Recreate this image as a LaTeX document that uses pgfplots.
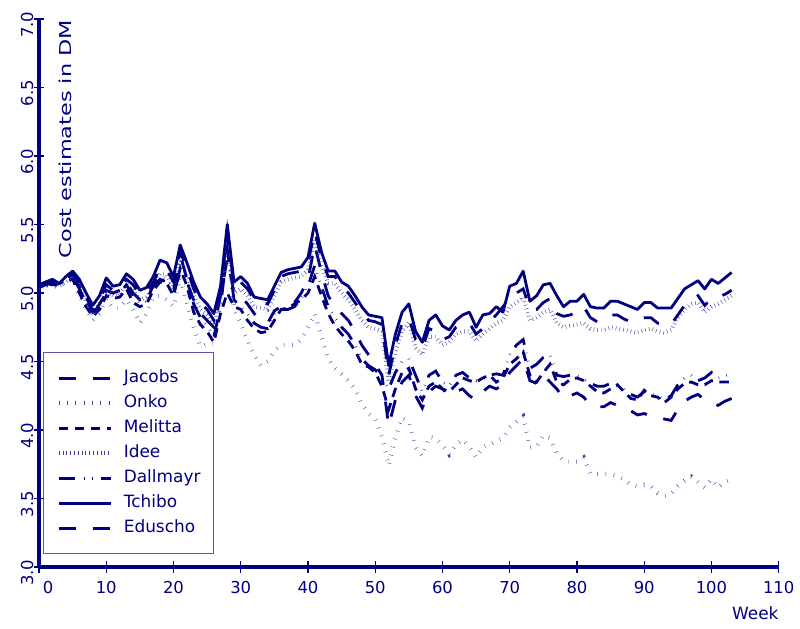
\documentclass[border=0pt]{standalone}
\usepackage{fontspec}
\setmainfont{DejaVu Sans}
\newfontfamily\ylabfont[FakeStretch=1.36]{DejaVu Sans}
\usepackage{pgfplots}
\usepackage{pgfplotstable}
\pgfplotsset{compat=1.18}
\definecolor{navy}{RGB}{0,0,128}

% week, Jacobs, Onko, Melitta, Idee, Dallmayr, Tchibo, Eduscho
\pgfplotstableread{
w J O M I D T E
0 5.06 5.05 5.04 5.04 5.05 5.05 5.05
1 5.08 5.06 5.06 5.05 5.07 5.08 5.07
2 5.07 5.05 5.05 5.07 5.06 5.10 5.09
3 5.09 5.04 5.07 5.05 5.08 5.07 5.06
4 5.11 5.08 5.09 5.08 5.10 5.12 5.10
5 5.13 5.10 5.10 5.12 5.12 5.16 5.14
6 5.05 4.98 5.00 5.05 5.03 5.10 5.08
7 4.95 4.88 4.90 4.93 4.93 5.00 4.97
8 4.86 4.80 4.83 4.84 4.84 4.91 4.87
9 4.90 4.85 4.88 4.92 4.92 4.98 4.95
10 5.02 4.96 4.98 5.02 5.00 5.11 5.06
11 5.00 4.89 4.96 4.98 4.98 5.05 5.02
12 5.02 4.89 4.97 5.00 5.00 5.06 5.03
13 5.08 4.95 5.03 5.06 5.06 5.14 5.10
14 5.00 4.88 4.93 5.02 4.98 5.10 5.06
15 4.95 4.78 4.90 4.95 4.92 5.02 4.99
16 4.97 4.85 4.92 4.97 4.94 5.04 5.01
17 5.05 4.97 5.02 5.05 5.06 5.12 5.08
18 5.10 4.98 5.08 5.14 5.12 5.24 5.18
19 5.08 4.95 5.07 5.13 5.10 5.22 5.17
20 5.00 4.90 4.98 5.04 5.02 5.12 5.08
21 5.15 5.11 5.18 5.25 5.28 5.35 5.30
22 5.08 4.92 5.05 5.12 5.10 5.22 5.18
23 4.95 4.75 4.86 4.98 4.92 5.08 5.03
24 4.85 4.61 4.77 4.88 4.82 4.97 4.93
25 4.80 4.63 4.72 4.84 4.76 4.92 4.88
26 4.75 4.63 4.64 4.76 4.68 4.85 4.80
27 4.98 4.95 4.85 4.96 4.90 5.05 5.00
28 5.25 5.40 5.00 5.40 5.32 5.50 5.45
29 5.00 4.88 4.90 5.00 4.95 5.08 5.05
30 4.98 4.78 4.88 5.03 4.90 5.12 5.08
31 4.92 4.65 4.80 4.98 4.85 5.07 5.03
32 4.85 4.55 4.74 4.90 4.78 4.97 4.95
33 4.80 4.47 4.71 4.89 4.75 4.96 4.93
34 4.78 4.50 4.72 4.88 4.74 4.95 4.92
35 4.87 4.58 4.80 4.98 4.85 5.05 5.02
36 4.90 4.62 4.88 5.08 4.88 5.15 5.12
37 4.90 4.62 4.89 5.10 4.88 5.17 5.14
38 4.93 4.62 4.92 5.11 4.90 5.18 5.15
39 5.00 4.66 4.95 5.12 4.96 5.19 5.16
40 5.10 4.75 5.00 5.17 5.05 5.26 5.22
41 5.35 4.85 5.12 5.40 5.20 5.51 5.45
42 5.15 4.68 4.98 5.20 5.05 5.30 5.25
43 4.98 4.52 4.85 5.07 4.90 5.16 5.12
44 4.90 4.45 4.76 5.07 4.82 5.16 5.12
45 4.85 4.41 4.70 5.00 4.75 5.08 5.04
46 4.80 4.36 4.65 4.95 4.70 5.05 5.00
47 4.72 4.30 4.58 4.88 4.62 4.98 4.93
48 4.62 4.19 4.48 4.80 4.52 4.90 4.86
49 4.55 4.12 4.46 4.75 4.47 4.84 4.80
50 4.48 4.08 4.42 4.74 4.44 4.83 4.79
51 4.40 3.95 4.32 4.72 4.38 4.82 4.77
52 4.03 3.74 4.15 4.35 4.30 4.47 4.40
53 4.22 3.95 4.30 4.57 4.42 4.70 4.62
54 4.35 4.09 4.42 4.72 4.50 4.86 4.78
55 4.40 4.06 4.45 4.78 4.52 4.92 4.82
56 4.25 3.87 4.30 4.60 4.40 4.72 4.66
57 4.16 3.81 4.22 4.55 4.28 4.64 4.60
58 4.28 3.95 4.32 4.68 4.40 4.80 4.74
59 4.32 3.94 4.35 4.68 4.43 4.84 4.72
60 4.30 3.89 4.30 4.62 4.35 4.76 4.66
61 4.25 3.82 4.28 4.64 4.32 4.73 4.68
62 4.28 3.89 4.33 4.70 4.40 4.80 4.75
63 4.30 3.93 4.38 4.72 4.42 4.84 4.77
64 4.25 3.88 4.36 4.72 4.38 4.86 4.78
65 4.22 3.80 4.35 4.65 4.36 4.75 4.70
66 4.28 3.88 4.38 4.70 4.37 4.84 4.74
67 4.32 3.89 4.40 4.74 4.40 4.85 4.79
68 4.30 3.92 4.35 4.78 4.41 4.90 4.84
69 4.33 3.94 4.38 4.80 4.40 4.86 4.90
70 4.42 4.02 4.48 4.90 4.55 5.05 4.96
71 4.47 4.06 4.52 4.93 4.62 5.07 5.00
72 4.52 4.10 4.57 4.97 4.66 5.16 5.03
73 4.36 3.87 4.40 4.80 4.45 4.94 4.89
74 4.34 3.88 4.35 4.82 4.48 4.98 4.88
75 4.40 3.96 4.42 4.86 4.53 5.06 4.93
76 4.35 3.94 4.48 4.88 4.55 5.07 4.96
77 4.30 3.83 4.35 4.78 4.40 4.98 4.85
78 4.23 3.77 4.33 4.75 4.39 4.90 4.83
79 4.25 3.77 4.37 4.76 4.40 4.94 4.84
80 4.27 3.77 4.38 4.77 4.40 4.94 4.86
81 4.24 3.80 4.36 4.78 4.37 4.99 4.90
82 4.18 3.68 4.32 4.74 4.34 4.90 4.82
83 4.17 3.68 4.28 4.73 4.32 4.89 4.79
84 4.17 3.68 4.27 4.73 4.32 4.89 4.81
85 4.20 3.68 4.30 4.75 4.34 4.94 4.84
86 4.18 3.66 4.33 4.74 4.32 4.94 4.84
87 4.17 3.64 4.28 4.73 4.30 4.92 4.81
88 4.14 3.60 4.23 4.72 4.26 4.90 4.79
89 4.11 3.59 4.22 4.71 4.24 4.88 4.80
90 4.12 3.60 4.29 4.73 4.28 4.93 4.82
91 4.10 3.59 4.25 4.74 4.26 4.93 4.82
92 4.09 3.54 4.24 4.72 4.25 4.89 4.78
93 4.08 3.52 4.20 4.71 4.22 4.89 4.77
94 4.07 3.53 4.24 4.73 4.25 4.89 4.77
95 4.15 3.59 4.30 4.82 4.33 4.96 4.84
96 4.21 3.63 4.34 4.88 4.38 5.03 4.91
97 4.24 3.66 4.35 4.92 4.40 5.06 4.95
98 4.26 3.62 4.33 4.93 4.36 5.09 4.98
99 4.22 3.58 4.33 4.86 4.38 5.03 4.91
100 4.20 3.64 4.36 4.90 4.42 5.10 4.96
101 4.18 3.58 4.35 4.92 4.38 5.07 4.97
102 4.21 3.62 4.35 4.95 4.40 5.11 4.99
103 4.23 3.64 4.35 4.98 4.40 5.15 5.02
}\coffee

\begin{document}
\begin{tikzpicture}
\useasboundingbox (-39bp,-62bp) rectangle (761bp,567bp);
\begin{axis}[
  at={(0,0)}, anchor=south west, scale only axis,
  width=739.7bp, height=548bp,
  xmin=0, xmax=110, ymin=3, ymax=7,
  axis x line=bottom, axis y line=left,
  axis line style={-, line width=3.5bp, draw=navy},
  xtick={0,10,20,30,40,50,60,70,80,90,100,110},
  xticklabels={\hspace*{18bp}0,10,20,30,40,50,60,70,80,90,100,110},
  ytick={3,3.5,4,4.5,5,5.5,6,6.5,7},
  yticklabels={3.0,3.5,4.0,4.5,5.0,5.5,6.0,6.5,7.0},
  tick align=center, major tick length=11bp,
  tick style={draw=navy, line width=1.2bp},
  every tick label/.append style={text=navy, font=\fontsize{16.5}{19}\selectfont},
  xticklabel style={inner sep=0pt, yshift=-8.2bp},
  yticklabel style={rotate=90, anchor=south, inner sep=0pt, xshift=-5.8bp},
  xlabel={Week},
  xlabel style={at={(axis description cs:1,0)}, anchor=base east, yshift=-52bp, text=navy, font=\fontsize{17}{19}\selectfont, inner sep=0pt},
  ylabel={Cost estimates in DM},
  ylabel style={at={(axis description cs:0.0442,0.9982)}, anchor=base east, text=navy, font=\ylabfont\fontsize{16.5}{19}\selectfont, inner sep=0pt},
  legend cell align=left,
  legend image code/.code={\draw[#1] (0bp,0bp) -- (52bp,0bp);},
  legend style={at={(0.00581,0.3918)}, anchor=north west, draw=navy!65, line width=1bp, fill=white,
    inner xsep=13bp, inner ysep=17.5bp, row sep=9bp, column sep=11bp,
    font=\fontsize{17}{19}\selectfont, text=navy,
    nodes={inner sep=0pt, text height=12.5bp, text depth=3.5bp}},
]
\addplot[navy, line width=2.8bp, dash pattern=on 17bp off 17bp] table[x=w, y=J] {\coffee};
\addlegendentry{Jacobs}
\addplot[navy!75, line width=4bp, dash pattern=on 0.45bp off 7.85bp] table[x=w, y=O] {\coffee};
\addlegendentry{Onko}
\addplot[navy, line width=2.8bp, dash pattern=on 9.5bp off 6.5bp] table[x=w, y=M] {\coffee};
\addlegendentry{Melitta}
\addplot[navy!75, line width=4bp, dash pattern=on 0.45bp off 3.35bp] table[x=w, y=I] {\coffee};
\addlegendentry{Idee}
\addplot[navy, line width=2.8bp, dash pattern=on 16.7bp off 8.3bp on 0.45bp off 7.85bp on 0.45bp off 8.3bp] table[x=w, y=D] {\coffee};
\addlegendentry{Dallmayr}
\addplot[navy, line width=2.8bp, line join=round] table[x=w, y=T] {\coffee};
\addlegendentry{Tchibo}
\addplot[navy, line width=2.8bp, dash pattern=on 17bp off 17bp] table[x=w, y=E] {\coffee};
\addlegendentry{Eduscho}
\end{axis}
\end{tikzpicture}
\end{document}
